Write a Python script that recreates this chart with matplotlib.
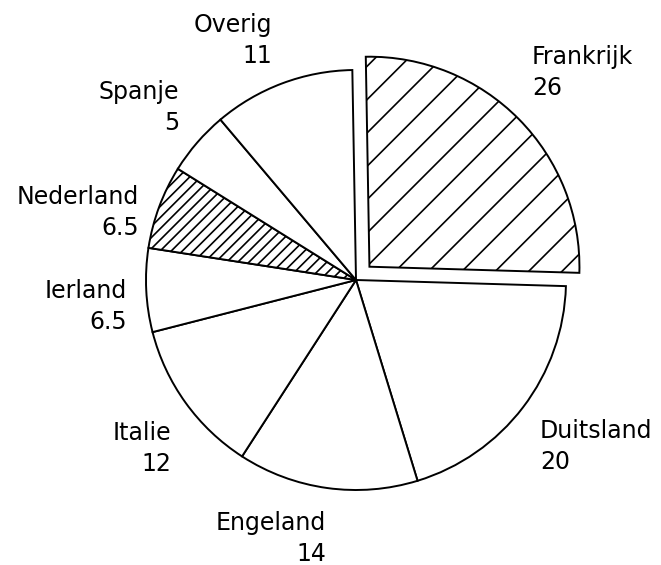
import numpy as np
import matplotlib.pyplot as plt

# data (clockwise from the top)
countries = ['Frankrijk', 'Duitsland', 'Engeland', 'Italie', 'Ierland', 'Nederland', 'Spanje', 'Overig']
values = [26, 20, 14, 12, 6.5, 6.5, 5, 11]
value_labels = ['26', '20', '14', '12', '6.5', '6.5', '5', '11']

# layout: pixel positions of the label blocks (x, y of first line, alignment)
label_pos = {
    'Frankrijk': (532, 57, 'left'),
    'Duitsland': (540, 431, 'left'),
    'Engeland': (326, 523, 'right'),
    'Italie': (171, 433, 'right'),
    'Ierland': (127, 291, 'right'),
    'Nederland': (139, 197, 'right'),
    'Spanje': (179, 92, 'right'),
    'Overig': (272, 25, 'right'),
}

W, H = 661, 565
cx, cy, R = 356, 280, 210

plt.rcParams['hatch.linewidth'] = 1.2
fig = plt.figure(figsize=(W / 100, H / 100), dpi=100)
ax = fig.add_axes([0, 0, 1, 1])

hatches = ['/', None, None, None, None, '///', None, None]
explode = [0.09, 0, 0, 0, 0, 0, 0, 0]
wedges, _ = ax.pie(values, startangle=91, counterclock=False, explode=explode,
                   colors=['white'] * len(values),
                   wedgeprops=dict(edgecolor='black', linewidth=1.4))
for w, h in zip(wedges, hatches):
    if h:
        w.set_hatch(h)

ax.set_xlim(-cx / R, (W - cx) / R)
ax.set_ylim(-(H - cy) / R, cy / R)
ax.set_aspect('equal')
ax.axis('off')


def px(x, y):
    return (x - cx) / R, (cy - y) / R


for name, val in zip(countries, value_labels):
    x, y, ha = label_pos[name]
    tx, ty = px(x, y)
    ax.text(tx, ty, name, ha=ha, va='center', fontsize=17, family='DejaVu Sans')
    tx, ty = px(x, y + 31)
    ax.text(tx, ty, val, ha=ha, va='center', fontsize=17, family='DejaVu Sans')

fig.savefig('out.png', dpi=100, facecolor='white')
